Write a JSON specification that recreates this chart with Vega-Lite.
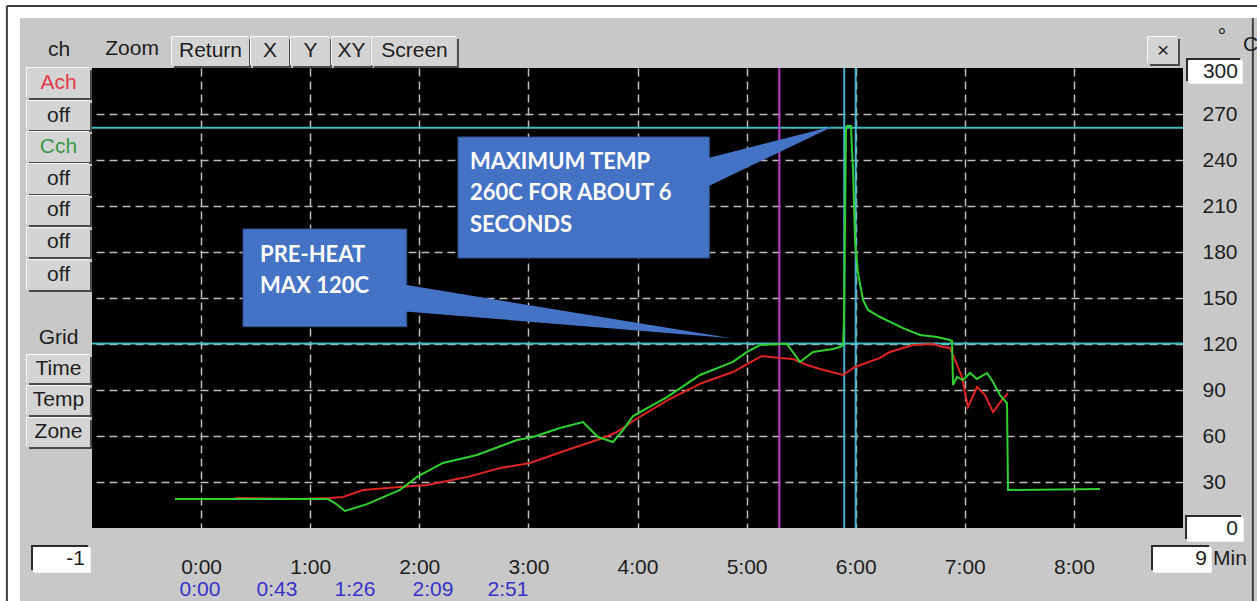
{
  "$schema": "https://vega.github.io/schema/vega-lite/v6.json",
  "width": 1091,
  "height": 460,
  "autosize": {"type": "none"},
  "padding": {"left": 92, "top": 68, "right": 74, "bottom": 73},
  "background": "#c8c8c8",
  "config": {"view": {"fill": "#000000", "stroke": null}, "font": "Liberation Sans"},
  "datasets": {
    "ach": [
      {"x": 0.30, "y": 19.2}, {"x": 0.357, "y": 19.6}, {"x": 0.907, "y": 18.9}, {"x": 1.181, "y": 19.6}, {"x": 1.301, "y": 20.2},
      {"x": 1.484, "y": 24.8}, {"x": 1.823, "y": 26.7}, {"x": 2.071, "y": 28.0}, {"x": 2.437, "y": 33.2}, {"x": 2.740, "y": 39.1},
      {"x": 3.015, "y": 42.4}, {"x": 3.354, "y": 50.9}, {"x": 3.656, "y": 58.0}, {"x": 3.812, "y": 62.6}, {"x": 3.959, "y": 69.8},
      {"x": 4.280, "y": 83.5}, {"x": 4.591, "y": 94.6}, {"x": 4.875, "y": 101.7}, {"x": 5.004, "y": 106.9}, {"x": 5.141, "y": 112.2},
      {"x": 5.306, "y": 110.9}, {"x": 5.425, "y": 110.2}, {"x": 5.554, "y": 106.3}, {"x": 5.673, "y": 103.7}, {"x": 5.884, "y": 99.8},
      {"x": 5.994, "y": 105.0}, {"x": 6.223, "y": 110.9}, {"x": 6.314, "y": 114.8}, {"x": 6.525, "y": 119.3}, {"x": 6.709, "y": 120.0},
      {"x": 6.800, "y": 118.0}, {"x": 6.864, "y": 117.4}, {"x": 6.910, "y": 109.6}, {"x": 6.974, "y": 98.5}, {"x": 7.029, "y": 78.9},
      {"x": 7.112, "y": 91.9}, {"x": 7.185, "y": 86.7}, {"x": 7.259, "y": 75.6}, {"x": 7.341, "y": 83.5}, {"x": 7.396, "y": 88.0}
    ],
    "cch": [
      {"x": -0.239, "y": 18.9}, {"x": 1.163, "y": 18.9}, {"x": 1.227, "y": 16.3}, {"x": 1.319, "y": 11.1}, {"x": 1.521, "y": 15.6},
      {"x": 1.823, "y": 24.8}, {"x": 1.979, "y": 33.3}, {"x": 2.217, "y": 42.4}, {"x": 2.529, "y": 47.6}, {"x": 2.896, "y": 57.4},
      {"x": 3.042, "y": 59.3}, {"x": 3.290, "y": 65.2}, {"x": 3.500, "y": 69.1}, {"x": 3.638, "y": 59.3}, {"x": 3.775, "y": 56.1},
      {"x": 3.867, "y": 63.9}, {"x": 3.959, "y": 73.0}, {"x": 4.270, "y": 85.4}, {"x": 4.573, "y": 99.8}, {"x": 4.875, "y": 108.3},
      {"x": 5.004, "y": 114.8}, {"x": 5.123, "y": 119.3}, {"x": 5.306, "y": 120.0}, {"x": 5.370, "y": 120.0}, {"x": 5.489, "y": 108.3},
      {"x": 5.609, "y": 114.8}, {"x": 5.792, "y": 116.7}, {"x": 5.856, "y": 118.0}, {"x": 5.884, "y": 119.3}, {"x": 5.893, "y": 135.7},
      {"x": 5.911, "y": 259.6}, {"x": 5.920, "y": 262.2}, {"x": 5.957, "y": 262.2}, {"x": 5.966, "y": 246.5}, {"x": 5.975, "y": 235.4},
      {"x": 5.994, "y": 187.8}, {"x": 6.021, "y": 166.3}, {"x": 6.067, "y": 148.7}, {"x": 6.113, "y": 142.2}, {"x": 6.223, "y": 137.6},
      {"x": 6.434, "y": 130.4}, {"x": 6.589, "y": 125.9}, {"x": 6.745, "y": 124.6}, {"x": 6.864, "y": 122.6}, {"x": 6.883, "y": 121.9},
      {"x": 6.892, "y": 93.3}, {"x": 6.929, "y": 98.5}, {"x": 6.983, "y": 96.5}, {"x": 7.048, "y": 101.1}, {"x": 7.112, "y": 97.2},
      {"x": 7.204, "y": 101.1}, {"x": 7.259, "y": 95.2}, {"x": 7.323, "y": 86.7}, {"x": 7.387, "y": 81.5}, {"x": 7.396, "y": 24.8},
      {"x": 8.239, "y": 25.4}
    ],
    "hlines": [{"x": -1, "x2": 9, "y": 261}, {"x": -1, "x2": 9, "y": 120.4}],
    "magentaLine": [{"x": 5.3, "y": 0, "y2": 300}],
    "cyanLines": [{"x": 5.895, "y": 0, "y2": 300}, {"x": 6.0, "y": 0, "y2": 300}],
    "whiteFrame": [
      {"x": -1.85, "x2": 9.7, "y": 345, "y2": 332.6},
      {"x": -1.85, "x2": -1.66, "y": 345, "y2": -48}
    ],
    "frameH": [{"x": -1.78, "x2": 9.7, "y": 340.4}],
    "frameV": [{"x": -1.78, "y": 340.4, "y2": -48}, {"x": 9.64, "y": 332.6, "y2": -48}],
    "buttons": [
      {"x": -1.596, "x2": -1.018, "y": 300.0, "y2": 280.4},
      {"x": -1.596, "x2": -1.018, "y": 278.5, "y2": 259.6},
      {"x": -1.596, "x2": -1.018, "y": 258.3, "y2": 238.7},
      {"x": -1.596, "x2": -1.018, "y": 237.4, "y2": 217.8},
      {"x": -1.596, "x2": -1.018, "y": 216.5, "y2": 197.6},
      {"x": -1.596, "x2": -1.018, "y": 195.6, "y2": 176.7},
      {"x": -1.596, "x2": -1.018, "y": 174.8, "y2": 155.2},
      {"x": -1.596, "x2": -1.018, "y": 112.8, "y2": 94.6},
      {"x": -1.596, "x2": -1.018, "y": 92.6, "y2": 73.7},
      {"x": -1.596, "x2": -1.018, "y": 71.7, "y2": 52.8},
      {"x": -0.267, "x2": 0.439, "y": 320.2, "y2": 301.3},
      {"x": 0.457, "x2": 0.806, "y": 320.2, "y2": 301.3},
      {"x": 0.824, "x2": 1.181, "y": 320.2, "y2": 301.3},
      {"x": 1.199, "x2": 1.556, "y": 320.2, "y2": 301.3},
      {"x": 1.566, "x2": 2.345, "y": 320.2, "y2": 301.3},
      {"x": 8.679, "x2": 8.954, "y": 320.2, "y2": 302.6}
    ],
    "fields": [
      {"x": 9.046, "x2": 9.541, "y": 305.2, "y2": 290.2},
      {"x": 9.037, "x2": 9.550, "y": 7.2, "y2": -8.5},
      {"x": 8.725, "x2": 9.257, "y": -12.4, "y2": -28.7},
      {"x": -1.541, "x2": -1.018, "y": -12.4, "y2": -28.7}
    ],
    "uiLabels": [
      {"x": -1.307, "y": 290.2, "label": "Ach", "ch": "A"},
      {"x": -1.307, "y": 269.0, "label": "off", "ch": "-"},
      {"x": -1.307, "y": 248.5, "label": "Cch", "ch": "C"},
      {"x": -1.307, "y": 227.6, "label": "off", "ch": "-"},
      {"x": -1.307, "y": 207.1, "label": "off", "ch": "-"},
      {"x": -1.307, "y": 186.2, "label": "off", "ch": "-"},
      {"x": -1.307, "y": 165.0, "label": "off", "ch": "-"},
      {"x": -1.307, "y": 124.0, "label": "Grid", "ch": "-"},
      {"x": -1.307, "y": 103.7, "label": "Time", "ch": "-"},
      {"x": -1.307, "y": 83.2, "label": "Temp", "ch": "-"},
      {"x": -1.307, "y": 62.3, "label": "Zone", "ch": "-"},
      {"x": -1.302, "y": 311.7, "label": "ch", "ch": "-"},
      {"x": -0.633, "y": 312.4, "label": "Zoom", "ch": "-"},
      {"x": 0.086, "y": 311.1, "label": "Return", "ch": "-"},
      {"x": 0.632, "y": 311.1, "label": "X", "ch": "-"},
      {"x": 1.003, "y": 311.1, "label": "Y", "ch": "-"},
      {"x": 1.379, "y": 311.1, "label": "XY", "ch": "-"},
      {"x": 1.956, "y": 311.1, "label": "Screen", "ch": "-"},
      {"x": 8.817, "y": 311.4, "label": "×", "ch": "-"},
      {"x": 9.357, "y": 320.5, "label": "°", "ch": "-"}
    ],
    "fieldLabels": [
      {"x": 9.504, "y": 297.4, "label": "300"},
      {"x": 9.504, "y": -0.7, "label": "0"},
      {"x": 9.220, "y": -20.5, "label": "9"},
      {"x": -1.064, "y": -20.5, "label": "-1"}
    ],
    "sideLabels": [
      {"x": 9.275, "y": -20.0, "label": "Min"},
      {"x": 9.55, "y": 315.0, "label": "C"}
    ],
    "subTicks": [
      {"x": -0.010, "y": -40.4, "label": "0:00"},
      {"x": 0.696, "y": -40.4, "label": "0:43"},
      {"x": 1.411, "y": -40.4, "label": "1:26"},
      {"x": 2.126, "y": -40.4, "label": "2:09"},
      {"x": 2.813, "y": -40.4, "label": "2:51"}
    ],
    "calloutBoxes": [
      {"x": 2.355, "x2": 4.658, "y": 255.0, "y2": 176.1},
      {"x": 0.384, "x2": 1.885, "y": 195.0, "y2": 131.3}
    ],
    "calloutPointers": [
      {"c": "max", "x": 4.64, "y": 241.2, "y2": 222.6},
      {"c": "max", "x": 5.801, "y": 262.2, "y2": 262.2},
      {"c": "pre", "x": 1.87, "y": 158.6, "y2": 141.2},
      {"c": "pre", "x": 4.863, "y": 123.7, "y2": 123.7}
    ],
    "calloutText": [
      {"x": 2.465, "y": 238.7, "label": "MAXIMUM TEMP"},
      {"x": 2.465, "y": 218.2, "label": "260C FOR ABOUT 6"},
      {"x": 2.465, "y": 197.9, "label": "SECONDS"},
      {"x": 0.540, "y": 178.0, "label": "PRE-HEAT"},
      {"x": 0.540, "y": 157.8, "label": "MAX 120C"}
    ]
  },
  "encoding": {
    "x": {
      "field": "x", "type": "quantitative",
      "scale": {"domain": [-1, 9], "nice": false, "zero": false},
      "axis": {
        "title": null, "values": [0, 1, 2, 3, 4, 5, 6, 7, 8],
        "labelExpr": "datum.value + ':00'",
        "domain": false, "ticks": false,
        "labelFontSize": 21, "labelColor": "#1e1e1e", "labelPadding": 39, "labelBaseline": "middle",
        "labelFlush": false, "labelOverlap": false,
        "grid": true, "gridColor": "#bcbcbc", "gridDash": [8, 5], "gridWidth": 1.5
      }
    },
    "y": {
      "field": "y", "type": "quantitative",
      "scale": {"domain": [0, 300], "nice": false, "zero": false},
      "axis": {
        "title": null, "orient": "right", "values": [30, 60, 90, 120, 150, 180, 210, 240, 270],
        "domain": false, "ticks": false,
        "labelFontSize": 21, "labelColor": "#1e1e1e", "labelPadding": 19, "labelAlign": "left", "labelBaseline": "middle",
        "labelFlush": false, "labelOverlap": false,
        "grid": true, "gridColor": "#bcbcbc", "gridDash": [8, 5], "gridWidth": 1.5
      }
    }
  },
  "layer": [
    {"data": {"name": "whiteFrame"}, "mark": {"type": "rect", "fill": "#ffffff", "clip": false}, "encoding": {"x2": {"field": "x2"}, "y2": {"field": "y2"}}},
    {"data": {"name": "frameH"}, "mark": {"type": "rule", "stroke": "#404040", "strokeWidth": 2, "clip": false}, "encoding": {"x2": {"field": "x2"}}},
    {"data": {"name": "frameV"}, "mark": {"type": "rule", "stroke": "#404040", "strokeWidth": 2, "clip": false}, "encoding": {"y2": {"field": "y2"}}},
    {"data": {"name": "buttons"}, "mark": {"type": "rect", "fill": "#4a4a4a", "xOffset": 2, "x2Offset": 2, "yOffset": 2, "y2Offset": 2, "clip": false}, "encoding": {"x2": {"field": "x2"}, "y2": {"field": "y2"}}},
    {"data": {"name": "buttons"}, "mark": {"type": "rect", "fill": "#f8f8f8", "xOffset": -1, "x2Offset": -1, "yOffset": -1, "y2Offset": -1, "clip": false}, "encoding": {"x2": {"field": "x2"}, "y2": {"field": "y2"}}},
    {"data": {"name": "buttons"}, "mark": {"type": "rect", "fill": "#d4d4d4", "clip": false}, "encoding": {"x2": {"field": "x2"}, "y2": {"field": "y2"}}},
    {"data": {"name": "fields"}, "mark": {"type": "rect", "fill": "#2a2a2a", "xOffset": -2, "x2Offset": -2, "yOffset": -2, "y2Offset": -2, "clip": false}, "encoding": {"x2": {"field": "x2"}, "y2": {"field": "y2"}}},
    {"data": {"name": "fields"}, "mark": {"type": "rect", "fill": "#f0f0f0", "xOffset": 1, "x2Offset": 1, "yOffset": 1, "y2Offset": 1, "clip": false}, "encoding": {"x2": {"field": "x2"}, "y2": {"field": "y2"}}},
    {"data": {"name": "fields"}, "mark": {"type": "rect", "fill": "#ffffff", "clip": false}, "encoding": {"x2": {"field": "x2"}, "y2": {"field": "y2"}}},
    {"data": {"name": "hlines"}, "mark": {"type": "rule", "stroke": "#3cbcc4", "strokeWidth": 2}, "encoding": {"x2": {"field": "x2"}}},
    {"data": {"name": "magentaLine"}, "mark": {"type": "rule", "stroke": "#c03cc8", "strokeWidth": 2}, "encoding": {"y2": {"field": "y2"}}},
    {"data": {"name": "cyanLines"}, "mark": {"type": "rule", "stroke": "#48b4d0", "strokeWidth": 2}, "encoding": {"y2": {"field": "y2"}}},
    {"data": {"name": "ach"}, "mark": {"type": "line", "stroke": "#e02424", "strokeWidth": 2}, "encoding": {}},
    {"data": {"name": "cch"}, "mark": {"type": "line", "stroke": "#2ed12e", "strokeWidth": 2}, "encoding": {}},
    {"data": {"name": "calloutBoxes"}, "mark": {"type": "rect", "fill": "#4472c4", "stroke": "#2f528f", "strokeWidth": 1}, "encoding": {"x2": {"field": "x2"}, "y2": {"field": "y2"}}},
    {"data": {"name": "calloutPointers"}, "mark": {"type": "area", "fill": "#4472c4", "opacity": 1}, "encoding": {"y2": {"field": "y2"}, "detail": {"field": "c"}}},
    {"data": {"name": "calloutText"}, "mark": {"type": "text", "font": "Lato", "fontWeight": "bold", "fontSize": 22, "fill": "#ffffff", "align": "left", "baseline": "middle"}, "encoding": {"text": {"field": "label"}}},
    {"data": {"name": "uiLabels"}, "mark": {"type": "text", "fontSize": 21, "align": "center", "baseline": "middle", "clip": false},
     "encoding": {"text": {"field": "label"}, "color": {"field": "ch", "type": "nominal", "scale": {"domain": ["A", "C", "-"], "range": ["#e23a48", "#3a9a48", "#1e1e1e"]}, "legend": null}}},
    {"data": {"name": "fieldLabels"}, "mark": {"type": "text", "fontSize": 21, "align": "right", "baseline": "middle", "fill": "#1e1e1e", "clip": false}, "encoding": {"text": {"field": "label"}}},
    {"data": {"name": "sideLabels"}, "mark": {"type": "text", "fontSize": 21, "align": "left", "baseline": "middle", "fill": "#1e1e1e", "clip": false}, "encoding": {"text": {"field": "label"}}},
    {"data": {"name": "subTicks"}, "mark": {"type": "text", "fontSize": 21, "align": "center", "baseline": "middle", "fill": "#3434c8", "clip": false}, "encoding": {"text": {"field": "label"}}}
  ]
}
